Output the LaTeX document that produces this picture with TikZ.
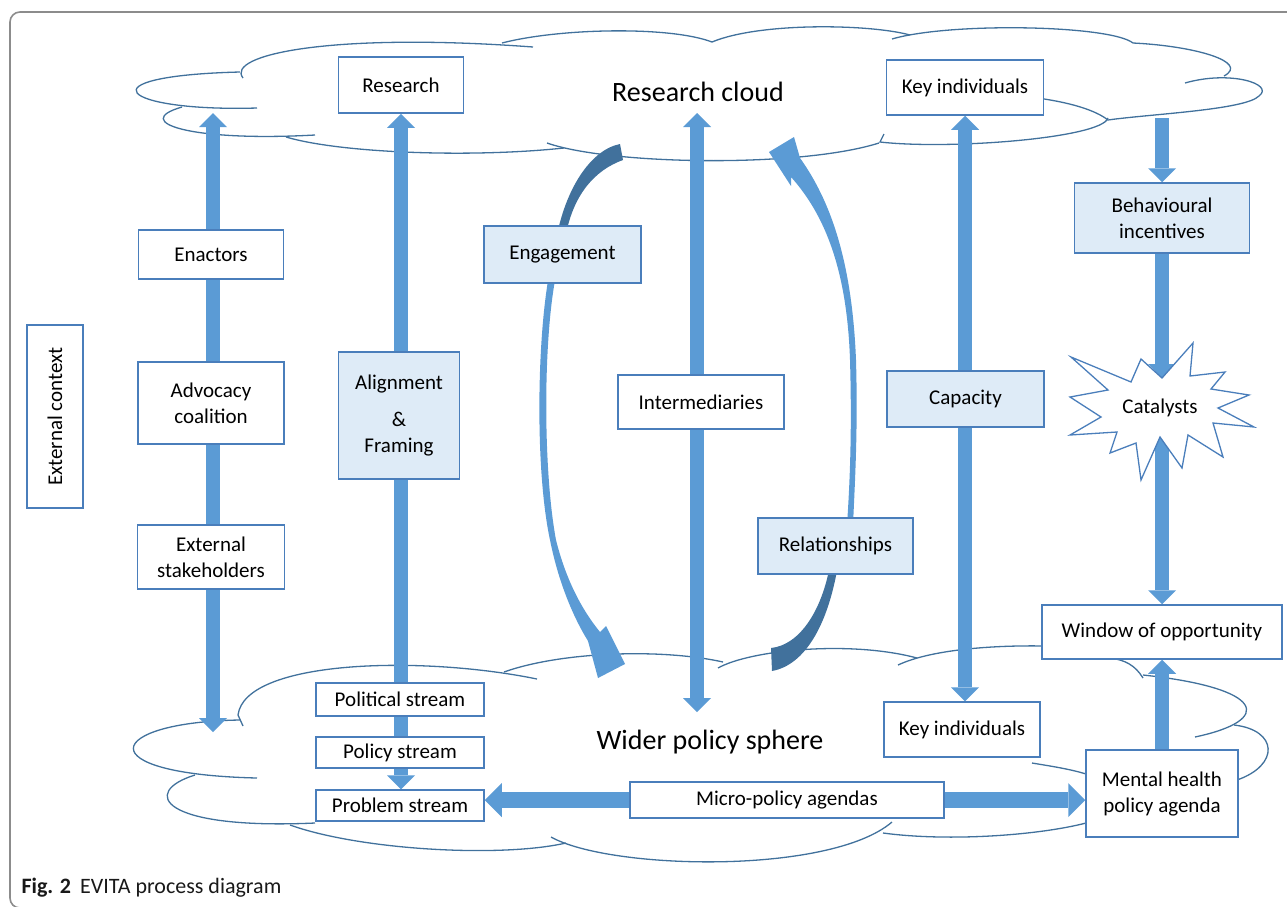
\documentclass[tikz,border=0pt]{standalone}
\usepackage{fontspec}
\setmainfont{Carlito}
\usepackage{xcolor}
\usepackage{tikz}
\usetikzlibrary{arrows.meta}
\usetikzlibrary{backgrounds}
\definecolor{arrowblue}{HTML}{5B9BD5}
\definecolor{bandblue}{HTML}{41719C}
\definecolor{boxline}{HTML}{4A7EBB}
\definecolor{cloudline}{HTML}{41719C}
\definecolor{lightfill}{HTML}{DEEBF7}
\definecolor{framegray}{HTML}{8C8C8C}
\newcommand\boxfont{\fontsize{21}{26}\selectfont}
\newcommand\cloudfont{\fontsize{28}{32}\selectfont}
\tikzstyle{bx}=[draw=boxline,line width=1.5pt,fill=white,inner sep=0pt,align=center,font=\boxfont]
\tikzstyle{bxlit}=[bx,fill=lightfill]
\tikzstyle{cl}=[draw=cloudline,line width=1.3pt]
\tikzstyle{ar}=[line width=14pt,draw=arrowblue,>/.tip={Triangle[length=14pt,width=28pt,line width=0pt]}]
\tikzstyle{arw}=[line width=16pt,draw=arrowblue,>/.tip={Triangle[length=17pt,width=34pt,line width=0pt]}]

\begin{document}
\begin{tikzpicture}[x=1pt,y=-1pt]
	\useasboundingbox (0,0) rectangle (1287,906);
	\node (rescloud) at (698,92) {\cloudfont Research cloud};
	\node (widercloud) at (710,742) {\cloudfont Wider policy sphere};
	\node[bx,minimum width=125pt,minimum height=56pt] (research) at (401,85) {Research};
	\node[bx,minimum width=157pt,minimum height=55pt] (keytop) at (965,87.5) {Key individuals};
	\node[bx,minimum width=145pt,minimum height=49pt] (enactors) at (211,254.5) {Enactors};
	\node[bxlit,minimum width=157pt,minimum height=57pt] (engage) at (562.5,254.5) {Engagement};
	\node[bxlit,minimum width=175pt,minimum height=70pt] (behav) at (1162,218) {Behavioural\\incentives};
	\node[bx,rotate=90,minimum width=183pt,minimum height=56pt] (extctx) at (55,416.5) {External context};
	\node[bx,minimum width=146pt,minimum height=82pt] (advocacy) at (211,403) {Advocacy\\coalition};
	\node[bxlit,minimum width=121pt,minimum height=127pt] (align) at (399,415.5) {Alignment\\[11pt]\&\\Framing};
	\node[bx,minimum width=166pt,minimum height=54pt] (intermed) at (701,402) {Intermediaries};
	\node[bxlit,minimum width=157pt,minimum height=56pt] (capacity) at (965.5,399) {Capacity};
	\node[bx,minimum width=147pt,minimum height=64pt] (stakeh) at (211,557) {External\\stakeholders};
	\node[bxlit,minimum width=155pt,minimum height=56pt] (relation) at (835.5,546) {Relationships};
	\node[bx,minimum width=240pt,minimum height=54pt] (window) at (1162,632) {Window of opportunity};
	\node[bx,minimum width=168pt,minimum height=33pt] (political) at (400,699.5) {Political stream};
	\node[bx,minimum width=168pt,minimum height=31pt] (policy) at (400,752.5) {Policy stream};
	\node[bx,minimum width=168pt,minimum height=31pt] (problem) at (400,805.5) {Problem stream};
	\node[bx,minimum width=156pt,minimum height=55pt] (keybot) at (962,729.5) {Key individuals};
	\node[bx,minimum width=314pt,minimum height=36pt] (micro) at (787,800) {Micro-policy agendas};
	\node[bx,minimum width=152pt,minimum height=87pt] (mental) at (1162,793.5) {Mental health\\policy agenda};
	\coordinate (enctop) at (213,113);
	\coordinate (encbot) at (213,732);
	\coordinate (midtop) at (697,113);
	\coordinate (midbot) at (697,712);
	\coordinate (rtop) at (1162,118);
	\coordinate (cattop) at (1162,378);
	\coordinate (catbot) at (1162,437);
	\draw[draw=boxline,line width=1.3pt,fill=white] (1071,357) -- (1131,382) -- (1141,359) -- (1162,378) -- (1193,343) -- (1190,376) -- (1225,372) -- (1211,389) -- (1249,395) -- (1218,408) -- (1254,427) -- (1213,423) -- (1223,457) -- (1188,435) -- (1182,468) -- (1160,437) -- (1141,480) -- (1136,443) -- (1110,453) -- (1117,432) -- (1070,435) -- (1101,417) -- (1070,397) -- (1108,390) -- cycle;
	\node[font=\boxfont] (catalysts) at (1160,408) {Catalysts};
	\node[anchor=base west,font=\fontsize{22}{24}\selectfont,text=black!90] (caption) at (18,893) {\textbf{Fig. 2}\hspace{9pt}EVITA process diagram};
	\begin{scope}[on background layer]
		\draw[framegray,line width=1.6pt,rounded corners=10pt] (1300,12) -- (10,12) -- (10,908) -- (1300,908);
		% research cloud
		\draw[cl] (257,108) .. controls (120,112) and (80,76) .. (240,72);
		\draw[cl] (243,78) .. controls (225,55) and (330,32) .. (533,47);
		\draw[cl] (502,43) .. controls (560,28) and (670,26) .. (712,42);
		\draw[cl] (712,42) .. controls (760,22) and (870,24) .. (910,35);
		\draw[cl] (892,39) .. controls (950,22) and (1110,25) .. (1133,43);
		\draw[cl] (1133,43) .. controls (1195,46) and (1250,62) .. (1224,76);
		\draw[cl] (1185,83) .. controls (1230,70) and (1275,84) .. (1259,96) .. controls (1245,110) and (1150,114) .. (1108,120);
		\draw[cl] (1030,97) .. controls (1070,102) and (1095,110) .. (1108,120);
		\draw[cl] (1108,118) .. controls (1102,138) and (950,150) .. (880,142) -- (884,134);
		\draw[cl] (547,143) .. controls (610,165) and (800,168) .. (879,143);
		\draw[cl] (564,148) .. controls (470,158) and (340,153) .. (286,137);
		\draw[cl] (315,135) .. controls (190,142) and (130,122) .. (182,107);
		% policy cloud
		\draw[cl] (537,679) .. controls (420,655) and (245,660) .. (238,715) -- (243,726);
		\draw[cl] (240,720) .. controls (105,722) and (85,774) .. (257,778);
		\draw[cl] (195,775) .. controls (140,792) and (160,830) .. (315,823);
		\draw[cl] (290,825) .. controls (360,850) and (500,858) .. (566,843);
		\draw[cl] (551,837) .. controls (610,870) and (830,875) .. (892,822);
		\draw[cl] (883,833) .. controls (950,842) and (1040,835) .. (1086,823);
		\draw[cl] (1237,780) .. controls (1280,765) and (1278,730) .. (1234,725);
		\draw[cl] (1195,737) .. controls (1275,720) and (1265,688) .. (1143,675);
		\draw[cl] (1143,678) .. controls (1135,665) and (1125,660) .. (1110,658);
		\draw[cl] (898,665) .. controls (930,650) and (990,645) .. (1045,646);
		\draw[cl] (718,668) .. controls (750,650) and (850,640) .. (917,658);
		\draw[cl] (504,672) .. controls (560,652) and (660,648) .. (723,662);
		\draw[cl] (1032,763) .. controls (1050,766) and (1070,769) .. (1086,774);
		% block arrows
		\draw[ar,<->] (enctop) -- (encbot);
		\draw[ar,<->] (research.south) -- (research.south |- problem.north);
		\draw[ar,<->] (midtop) -- (midbot);
		\draw[ar,<->] (keytop.south) -- (keytop.south |- keybot.north);
		\draw[ar,->] (rtop) -- (behav.north);
		\draw[ar,->] (behav.south) -- (cattop);
		\draw[ar,->] (catbot) -- (window.north);
		\draw[ar,->] (mental.north) -- (window.south);
		\draw[arw,<->] (problem.east |- micro) -- (mental.west |- micro);
		% curved arrows
		\fill[bandblue] (620,144) .. controls (590,150) and (565,190) .. (556,240) -- (565,240) .. controls (572,195) and (595,170) .. (623,160) -- cycle;
		\fill[arrowblue] (549,275) .. controls (537,340) and (535,470) .. (550,540) .. controls (558,580) and (572,615) .. (588,641) -- (598,678) -- (625,664) -- (606,626) -- (600,632) .. controls (582,610) and (566,580) .. (556,540) .. controls (543,470) and (543,340) .. (556,275) -- cycle;
		\fill[arrowblue] (769,152) -- (794,137) -- (800,158) .. controls (830,200) and (852,260) .. (856,360) .. controls (858,430) and (855,480) .. (853,525) -- (847,525) .. controls (850,480) and (852,430) .. (850,360) .. controls (847,270) and (825,215) .. (791,177) -- (791,186) -- cycle;
		\fill[bandblue] (838,565) .. controls (828,625) and (805,665) .. (772,671) -- (771,648) .. controls (800,645) and (822,610) .. (830,565) -- cycle;
	\end{scope}
\end{tikzpicture}
\end{document}
